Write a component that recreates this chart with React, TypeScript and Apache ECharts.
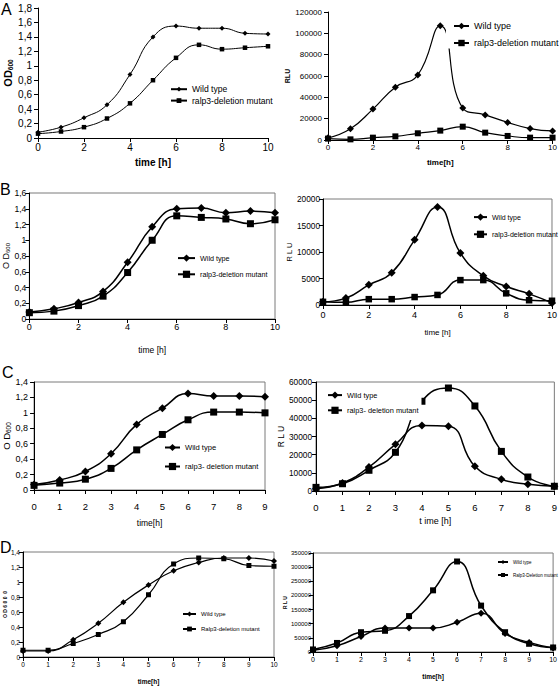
import React, { useEffect, useRef } from "react";
import * as echarts from "echarts";

// ---------------- data ----------------
const hours = [0, 1, 2, 3, 4, 5, 6, 7, 8, 9, 10];
const hoursC = [0, 1, 2, 3, 4, 5, 6, 7, 8, 9];

const odWildA = [0.08, 0.15, 0.28, 0.46, 0.88, 1.4, 1.55, 1.52, 1.52, 1.45, 1.44];
const odMutA = [0.06, 0.09, 0.15, 0.27, 0.48, 0.8, 1.11, 1.29, 1.23, 1.25, 1.27];
const rluWildA = [2000, 10500, 29000, 49500, 61000, 107000, 30000, 23500, 16500, 10700, 8500];
const rluMutA = [1300, 600, 2200, 3400, 6300, 8800, 12500, 6900, 3800, 2200, 2200];

const odWildB = [0.09, 0.13, 0.21, 0.35, 0.72, 1.17, 1.4, 1.41, 1.35, 1.37, 1.35];
const odMutB = [0.08, 0.1, 0.17, 0.29, 0.59, 1.0, 1.31, 1.29, 1.27, 1.21, 1.26];
const rluWildB = [600, 1300, 3800, 6100, 12300, 18500, 9800, 5500, 3500, 2100, 400];
const rluMutB = [600, 500, 1100, 1100, 1500, 1900, 4700, 4700, 2200, 900, 800];

const odWildC = [0.07, 0.13, 0.24, 0.47, 0.85, 1.06, 1.25, 1.22, 1.22, 1.21];
const odMutC = [0.06, 0.09, 0.14, 0.28, 0.52, 0.72, 0.91, 1.01, 1.01, 1.0];
const rluWildC = [1300, 4400, 13200, 25700, 36100, 35600, 13600, 6400, 3700, 2600];
const rluMutC = [2000, 4000, 11400, 21300, 49400, 56700, 46800, 21800, 7700, 2600];

const odWildD = [0.08, 0.08, 0.23, 0.45, 0.73, 0.96, 1.15, 1.26, 1.32, 1.32, 1.28];
const odMutD = [0.09, 0.09, 0.18, 0.3, 0.47, 0.83, 1.24, 1.32, 1.31, 1.22, 1.21];
const rluWildD = [6000, 22000, 55000, 85000, 85000, 85000, 105000, 137000, 65000, 34000, 14000];
const rluMutD = [9000, 32000, 70000, 75000, 127000, 218000, 320000, 164000, 70000, 29000, 16000];

const wildLabel = "Wild type";
const mutLabelA = "ralp3-deletion mutant";
const mutLabelC = "ralp3- deletion mutant";
const mutLabelDL = "Ralp3-deletion mutant";
const mutLabelDR = "Ralp3-Deletion mutant";

const panelLetters = ["A", "B", "C", "D"];

// ---------------- styling / layout ----------------
const FONT = "'Liberation Sans', Arial, sans-serif";

type Panel = {
  id: string;
  time: number[];
  wt: number[];
  mut: number[];
  wtName: string;
  mutName: string;
  grid: [number, number, number, number];
  box: boolean;
  xMax: number;
  xStep: number;
  yMax: number;
  yStep: number;
  xLabelSize: number;
  yLabelSize: number;
  xLabelMargin: number;
  yLabelMargin: number;
  xTitle: string;
  xTitleSize: number;
  xTitleBold: boolean;
  xTitleGap: number;
  yTitle: string;
  yMain: number;
  ySub: number;
  yTitleBold: boolean;
  yTitleGap: number;
  lineW: number;
  wtSym: number;
  mutSym: number;
  leg: { left: number; y1: number; y2: number; size: number; iw: number; ih: number; pad: number[]; bg: boolean };
};

const panels: Panel[] = [
  {
    id: "AL", time: hours, wt: odWildA, mut: odMutA, wtName: wildLabel, mutName: mutLabelA,
    grid: [38, 8, 230, 130], box: false, xMax: 10, xStep: 2, yMax: 1.8, yStep: 0.2,
    xLabelSize: 10, yLabelSize: 10, xLabelMargin: 4, yLabelMargin: 6,
    xTitle: "time [h]", xTitleSize: 10, xTitleBold: true, xTitleGap: 19,
    yTitle: "{a|OD}{b|600}", yMain: 11, ySub: 6.5, yTitleBold: true, yTitleGap: 20,
    lineW: 1, wtSym: 5, mutSym: 4.5,
    leg: { left: 170, y1: 89, y2: 100, size: 8.6, iw: 16, ih: 6, pad: [0, 0, 0, 0], bg: false },
  },
  {
    id: "AR", time: hours, wt: rluWildA, mut: rluMutA, wtName: wildLabel, mutName: mutLabelA,
    grid: [328, 12, 228, 128], box: false, xMax: 10, xStep: 2, yMax: 120000, yStep: 20000,
    xLabelSize: 8, yLabelSize: 8, xLabelMargin: 3, yLabelMargin: 6,
    xTitle: "time[h]", xTitleSize: 8, xTitleBold: true, xTitleGap: 18,
    yTitle: "RLU", yMain: 7, ySub: 6, yTitleBold: true, yTitleGap: 37,
    lineW: 1.2, wtSym: 7, mutSym: 6,
    leg: { left: 453, y1: 26, y2: 43, size: 9, iw: 15, ih: 8, pad: [4, 4, 1, 7], bg: true },
  },
  {
    id: "BL", time: hours, wt: odWildB, mut: odMutB, wtName: wildLabel, mutName: mutLabelA,
    grid: [23, 193, 252, 126], box: true, xMax: 10, xStep: 2, yMax: 1.6, yStep: 0.2,
    xLabelSize: 9, yLabelSize: 8.6, xLabelMargin: 3, yLabelMargin: 3,
    xTitle: "time [h]", xTitleSize: 8.5, xTitleBold: false, xTitleGap: 26,
    yTitle: "{a|O D}{b|600}", yMain: 9, ySub: 6, yTitleBold: false, yTitleGap: 12,
    lineW: 1.5, wtSym: 8, mutSym: 7,
    leg: { left: 177, y1: 259, y2: 277, size: 7.2, iw: 17, ih: 9, pad: [0, 0, 0, 0], bg: false },
  },
  {
    id: "BR", time: hours, wt: rluWildB, mut: rluMutB, wtName: wildLabel, mutName: mutLabelA,
    grid: [323, 199, 233, 106], box: true, xMax: 10, xStep: 2, yMax: 20000, yStep: 5000,
    xLabelSize: 9, yLabelSize: 8.3, xLabelMargin: 5, yLabelMargin: 3,
    xTitle: "time [h]", xTitleSize: 8, xTitleBold: false, xTitleGap: 23,
    yTitle: "R L U", yMain: 7.5, ySub: 6, yTitleBold: false, yTitleGap: 22,
    lineW: 1.5, wtSym: 8, mutSym: 6.5,
    leg: { left: 473, y1: 218, y2: 237, size: 7, iw: 13, ih: 9, pad: [0, 0, 0, 0], bg: false },
  },
  {
    id: "CL", time: hoursC, wt: odWildC, mut: odMutC, wtName: wildLabel, mutName: mutLabelC,
    grid: [31, 382, 234, 108], box: true, xMax: 9, xStep: 1, yMax: 1.4, yStep: 0.2,
    xLabelSize: 9.5, yLabelSize: 9, xLabelMargin: 11, yLabelMargin: 6,
    xTitle: "time[h]", xTitleSize: 8.5, xTitleBold: false, xTitleGap: 28,
    yTitle: "{a|O D}{b|600}", yMain: 9.5, ySub: 6.5, yTitleBold: false, yTitleGap: 17,
    lineW: 1.5, wtSym: 8, mutSym: 7,
    leg: { left: 164, y1: 448, y2: 468, size: 7.6, iw: 15, ih: 9, pad: [0, 0, 0, 0], bg: false },
  },
  {
    id: "CR", time: hoursC, wt: rluWildC, mut: rluMutC, wtName: wildLabel, mutName: mutLabelC,
    grid: [316, 382, 241, 109], box: true, xMax: 9, xStep: 1, yMax: 60000, yStep: 10000,
    xLabelSize: 9.5, yLabelSize: 8.3, xLabelMargin: 11, yLabelMargin: 4,
    xTitle: "t ime [h]", xTitleSize: 9, xTitleBold: false, xTitleGap: 25,
    yTitle: "R L U", yMain: 8.5, ySub: 6, yTitleBold: false, yTitleGap: 28,
    lineW: 1.5, wtSym: 8, mutSym: 7,
    leg: { left: 327, y1: 396, y2: 413, size: 7.4, iw: 14, ih: 9, pad: [5, 3, 6, 4], bg: true },
  },
  {
    id: "DL", time: hours, wt: odWildD, mut: odMutD, wtName: wildLabel, mutName: mutLabelDL,
    grid: [23, 552, 251, 105], box: true, xMax: 10, xStep: 1, yMax: 1.4, yStep: 0.2,
    xLabelSize: 6.5, yLabelSize: 6.5, xLabelMargin: 4, yLabelMargin: 3,
    xTitle: "time[h]", xTitleSize: 6.5, xTitleBold: true, xTitleGap: 21,
    yTitle: "O D 6 0 0  0", yMain: 5, ySub: 5, yTitleBold: true, yTitleGap: 13,
    lineW: 1.2, wtSym: 6, mutSym: 5,
    leg: { left: 182, y1: 614, y2: 629, size: 6, iw: 13, ih: 6, pad: [0, 0, 0, 0], bg: false },
  },
  {
    id: "DR", time: hours, wt: rluWildD, mut: rluMutD, wtName: wildLabel, mutName: mutLabelDR,
    grid: [313, 553, 244, 99], box: true, xMax: 10, xStep: 1, yMax: 350000, yStep: 50000,
    xLabelSize: 7, yLabelSize: 6, xLabelMargin: 4, yLabelMargin: 2,
    xTitle: "time[h]", xTitleSize: 6.5, xTitleBold: true, xTitleGap: 21,
    yTitle: "R L U", yMain: 5, ySub: 5, yTitleBold: true, yTitleGap: 24,
    lineW: 1.5, wtSym: 7, mutSym: 6,
    leg: { left: 497, y1: 562, y2: 575, size: 4.5, iw: 10, ih: 5, pad: [0, 0, 0, 0], bg: false },
  },
];

const letterPos = [
  { x: 1, y: 1, size: 16 },
  { x: 0, y: 181, size: 16 },
  { x: 2, y: 364, size: 16 },
  { x: 0, y: 539, size: 16 },
];

const fmt = (v: number) => String(v).replace(".", ",");

function buildOption() {
  const grid: any[] = [];
  const xAxis: any[] = [];
  const yAxis: any[] = [];
  const series: any[] = [];
  const legend: any[] = [];

  panels.forEach((p, i) => {
    const [l, t, w, h] = p.grid;
    grid.push({
      left: l, top: t, width: w, height: h,
      show: p.box, borderColor: "#7a7a7a", borderWidth: 1, backgroundColor: "transparent",
    });
    xAxis.push({
      type: "value", gridIndex: i, min: 0, max: p.xMax, interval: p.xStep,
      splitLine: { show: false },
      axisLine: { show: true, onZero: false, lineStyle: { color: "#000", width: 1 } },
      axisTick: { show: true, length: 4, lineStyle: { color: "#000" } },
      axisLabel: { color: "#000", fontFamily: FONT, fontSize: p.xLabelSize, margin: p.xLabelMargin, formatter: fmt },
      name: p.xTitle, nameLocation: "middle", nameGap: p.xTitleGap,
      nameTextStyle: { color: "#000", fontFamily: FONT, fontSize: p.xTitleSize, fontWeight: p.xTitleBold ? "bold" : "normal" },
    });
    const weight = p.yTitleBold ? "bold" : "normal";
    yAxis.push({
      type: "value", gridIndex: i, min: 0, max: p.yMax, interval: p.yStep,
      splitLine: { show: false },
      axisLine: { show: true, onZero: false, lineStyle: { color: "#000", width: 1 } },
      axisTick: { show: true, length: 4, lineStyle: { color: "#000" } },
      axisLabel: { color: "#000", fontFamily: FONT, fontSize: p.yLabelSize, margin: p.yLabelMargin, formatter: fmt },
      name: p.yTitle, nameLocation: "middle", nameRotate: 90, nameGap: p.yTitleGap,
      nameTextStyle: {
        color: "#000", fontFamily: FONT, fontSize: p.yMain, fontWeight: weight,
        rich: {
          a: { fontFamily: FONT, fontSize: p.yMain, fontWeight: weight, color: "#000" },
          b: { fontFamily: FONT, fontSize: p.ySub, fontWeight: weight, color: "#000", padding: [p.yMain * 0.45, 0, 0, 0] },
        },
      },
    });
    const wtKey = `${p.id}|${p.wtName}`;
    const mutKey = `${p.id}|${p.mutName}`;
    const mkSeries = (name: string, vals: number[], sym: string, size: number) => ({
      name, type: "line", xAxisIndex: i, yAxisIndex: i,
      data: p.time.map((tt, j) => [tt, vals[j]]),
      smooth: true, symbol: sym, symbolSize: size, showSymbol: true, clip: true,
      lineStyle: { color: "#000", width: p.lineW },
      itemStyle: { color: "#000" },
      emphasis: { disabled: true },
      z: 2,
    });
    series.push(mkSeries(wtKey, p.wt, "diamond", p.wtSym));
    series.push(mkSeries(mutKey, p.mut, "rect", p.mutSym));

    const lg = p.leg;
    const hItem = Math.max(lg.ih, lg.size);
    legend.push({
      data: [wtKey, mutKey],
      orient: "vertical",
      left: lg.left - lg.pad[3],
      top: lg.y1 - hItem / 2 - lg.pad[0],
      itemGap: lg.y2 - lg.y1 - hItem,
      itemWidth: lg.iw,
      itemHeight: lg.ih,
      padding: lg.pad,
      backgroundColor: lg.bg ? "#ffffff" : "transparent",
      selectedMode: false,
      formatter: (n: string) => n.split("|")[1],
      textStyle: { color: "#000", fontFamily: FONT, fontSize: lg.size },
      z: 5,
    });
  });

  const graphic = panelLetters.map((s, k) => ({
    type: "text",
    x: letterPos[k].x,
    y: letterPos[k].y,
    style: { text: s, fill: "#000", font: `${letterPos[k].size}px 'Liberation Sans', Arial, sans-serif`, textVerticalAlign: "top" },
  }));

  return {
    animation: false,
    backgroundColor: "#ffffff",
    textStyle: { fontFamily: FONT },
    grid, xAxis, yAxis, series, legend, graphic,
  };
}

export default function App() {
  const ref = useRef<HTMLDivElement>(null);
  useEffect(() => {
    if (!ref.current) return;
    const chart = echarts.init(ref.current, undefined, { renderer: "svg", width: 560, height: 686 });
    chart.setOption(buildOption() as any);
    return () => chart.dispose();
  }, []);
  return <div ref={ref} style={{ position: "absolute", left: 0, top: 0, width: 560, height: 686, background: "#fff" }} />;
}
